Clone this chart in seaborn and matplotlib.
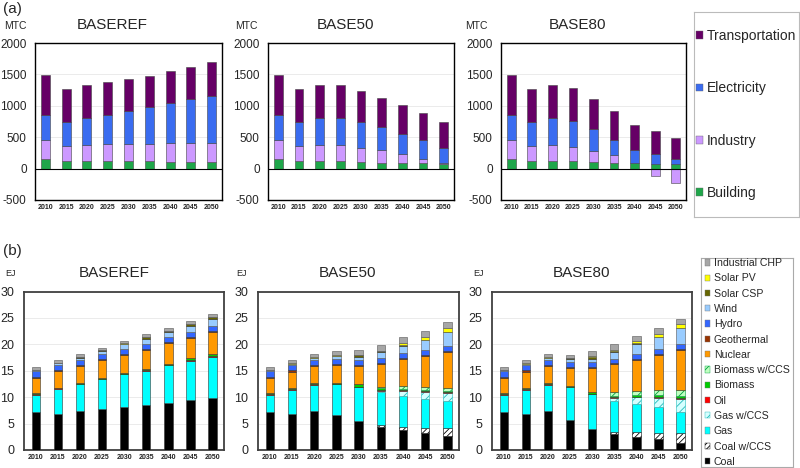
import numpy as np
import matplotlib
matplotlib.use("Agg")
import matplotlib.pyplot as plt
import seaborn as sns
from matplotlib.patches import Patch

years = ["2010", "2015", "2020", "2025", "2030", "2035", "2040", "2045", "2050"]
scenarios = ["BASEREF", "BASE50", "BASE80"]

# (a) emissions by sector, MTC
sectors = ["Building", "Industry", "Electricity", "Transportation"]
sector_colors = ["#1FA64A", "#CC99FF", "#3A6CF0", "#660066"]

ref_sector = {
    "Building":       [160, 120, 120, 120, 120, 120, 110, 110, 100],
    "Industry":       [290, 240, 250, 265, 270, 270, 290, 290, 310],
    "Electricity":    [400, 375, 430, 475, 535, 590, 640, 705, 745],
    "Transportation": [645, 540, 530, 520, 500, 490, 510, 515, 535],
}
b50_sector = {
    "Building":       [160, 120, 120, 120, 105, 95, 90, 85, 80],
    "Industry":       [290, 240, 250, 250, 225, 195, 135, 75, 15],
    "Electricity":    [400, 375, 430, 440, 420, 370, 330, 290, 240],
    "Transportation": [645, 540, 530, 515, 490, 470, 455, 430, 415],
}
b80_sector = {
    "Building":       [160, 120, 120, 120, 100, 90, 85, 75, 75],
    "Industry":       [290, 240, 250, 230, 185, 120, 0, -120, -230],
    "Electricity":    [400, 375, 430, 405, 340, 250, 210, 165, 85],
    "Transportation": [645, 540, 530, 525, 490, 450, 400, 355, 330],
}

# (b) electricity generation by source, EJ
fuels = ["Coal", "Coal w/CCS", "Gas", "Gas w/CCS", "Oil", "Biomass", "Biomass w/CCS",
         "Nuclear", "Geothermal", "Hydro", "Wind", "Solar CSP", "Solar PV", "Industrial CHP"]
fuel_face = ["#000000", "#FFFFFF", "#00FFFF", "#D5FFFF", "#FF0000", "#00CC00", "#C0FFC0",
             "#FF9900", "#993300", "#3366FF", "#99CCFF", "#666600", "#FFFF00", "#A6A6A6"]
fuel_edge = ["#333333", "#000000", "#333333", "#22BBBB", "#333333", "#333333", "#00A040",
             "#333333", "#333333", "#333333", "#555555", "#333333", "#555555", "#555555"]
fuel_hatch = [None, "//////", None, "////", None, None, "////",
              None, None, None, None, None, None, None]

ref_elec = {
    "Coal":           [7.1, 6.8, 7.3, 7.8, 8.1, 8.5, 8.9, 9.4, 9.9],
    "Coal w/CCS":     [0, 0, 0, 0, 0, 0, 0, 0, 0],
    "Gas":            [3.3, 4.7, 5.1, 5.6, 6.2, 6.5, 7.1, 7.5, 7.7],
    "Gas w/CCS":      [0, 0, 0, 0, 0, 0, 0, 0, 0],
    "Oil":            [0.15, 0.15, 0.1, 0.1, 0.1, 0.1, 0.1, 0.1, 0.1],
    "Biomass":        [0.15, 0.15, 0.2, 0.2, 0.2, 0.2, 0.2, 0.4, 0.5],
    "Biomass w/CCS":  [0, 0, 0, 0, 0, 0, 0, 0, 0],
    "Nuclear":        [3.0, 3.1, 3.2, 3.3, 3.4, 3.6, 3.9, 3.8, 4.1],
    "Geothermal":     [0.2, 0.2, 0.2, 0.2, 0.2, 0.2, 0.2, 0.2, 0.2],
    "Hydro":          [1.0, 1.0, 1.0, 1.0, 1.0, 1.0, 1.0, 1.0, 1.0],
    "Wind":           [0.15, 0.3, 0.4, 0.6, 0.8, 1.0, 0.9, 1.1, 1.3],
    "Solar CSP":      [0, 0, 0.05, 0.05, 0.1, 0.2, 0.2, 0.3, 0.3],
    "Solar PV":       [0.05, 0.05, 0.05, 0.05, 0.1, 0.1, 0.1, 0.1, 0.15],
    "Industrial CHP": [0.55, 0.55, 0.5, 0.5, 0.5, 0.5, 0.5, 0.5, 0.5],
}
b50_elec = {
    "Coal":           [7.1, 6.8, 7.3, 6.6, 5.4, 4.4, 3.8, 3.3, 2.7],
    "Coal w/CCS":     [0, 0, 0, 0, 0, 0.25, 0.5, 0.9, 1.4],
    "Gas":            [3.3, 4.6, 5.0, 5.8, 6.5, 6.4, 6.0, 5.5, 5.1],
    "Gas w/CCS":      [0, 0, 0, 0, 0, 0.2, 0.9, 1.3, 1.6],
    "Oil":            [0.15, 0.15, 0.1, 0.1, 0.1, 0.1, 0.1, 0.1, 0.1],
    "Biomass":        [0.15, 0.15, 0.2, 0.2, 0.4, 0.4, 0.3, 0.3, 0.3],
    "Biomass w/CCS":  [0, 0, 0, 0, 0, 0.1, 0.5, 0.5, 0.6],
    "Nuclear":        [3.0, 3.15, 3.3, 3.4, 3.5, 4.45, 5.1, 5.9, 6.8],
    "Geothermal":     [0.2, 0.2, 0.2, 0.2, 0.2, 0.2, 0.2, 0.2, 0.2],
    "Hydro":          [1.0, 1.0, 1.0, 1.0, 0.9, 0.9, 0.9, 0.9, 0.95],
    "Wind":           [0.15, 0.3, 0.35, 0.5, 0.6, 1.1, 1.4, 1.9, 2.5],
    "Solar CSP":      [0, 0, 0.05, 0.05, 0.3, 0.15, 0.1, 0.1, 0.1],
    "Solar PV":       [0.05, 0.05, 0.05, 0.05, 0.1, 0.15, 0.4, 0.5, 0.8],
    "Industrial CHP": [0.55, 0.65, 0.55, 0.8, 0.95, 1.1, 1.1, 1.2, 1.05],
}
b80_elec = {
    "Coal":           [7.1, 6.8, 7.3, 5.6, 4.0, 2.95, 2.5, 2.0, 1.25],
    "Coal w/CCS":     [0, 0, 0, 0, 0, 0.5, 0.85, 1.3, 1.9],
    "Gas":            [3.3, 4.6, 5.0, 6.3, 6.55, 5.85, 5.35, 4.8, 4.05],
    "Gas w/CCS":      [0, 0, 0, 0, 0, 0.6, 1.25, 1.8, 2.5],
    "Oil":            [0.15, 0.15, 0.1, 0.1, 0.1, 0.1, 0.1, 0.1, 0.1],
    "Biomass":        [0.15, 0.15, 0.2, 0.2, 0.35, 0.3, 0.3, 0.35, 0.4],
    "Biomass w/CCS":  [0, 0, 0, 0, 0, 0.6, 0.85, 1.0, 1.15],
    "Nuclear":        [3.0, 3.15, 3.3, 3.3, 4.6, 5.3, 5.85, 6.65, 7.55],
    "Geothermal":     [0.2, 0.2, 0.2, 0.2, 0.2, 0.2, 0.2, 0.2, 0.3],
    "Hydro":          [1.0, 1.0, 1.0, 1.0, 0.9, 0.9, 0.9, 0.85, 0.95],
    "Wind":           [0.15, 0.3, 0.35, 0.6, 0.6, 1.3, 2.0, 2.3, 2.85],
    "Solar CSP":      [0, 0, 0.05, 0.1, 0.3, 0.1, 0.1, 0.1, 0.15],
    "Solar PV":       [0.05, 0.05, 0.05, 0.05, 0.1, 0.2, 0.4, 0.6, 0.75],
    "Industrial CHP": [0.55, 0.65, 0.55, 0.6, 1.05, 1.1, 0.9, 0.95, 0.85],
}

sns.set_theme(style="white")
plt.rcParams["font.family"] = ["Liberation Sans", "DejaVu Sans"]
plt.rcParams["axes.unicode_minus"] = False
plt.rcParams["hatch.linewidth"] = 0.6

W, H = 800, 468
fig = plt.figure(figsize=(8, 4.68), dpi=100)


def box(x0, y0, x1, y1):
    return [x0 / W, 1 - y1 / H, (x1 - x0) / W, (y1 - y0) / H]


def ftext(x, y, s, **kw):
    fig.text(x / W, 1 - y / H, s, **kw)


def draw_stack(ax, table, names, faces, edges, hatches, width):
    pos = np.zeros(len(years))
    neg = np.zeros(len(years))
    for name, fc, ec, ht in zip(names, faces, edges, hatches):
        vals = np.asarray(table[name], dtype=float)
        base = np.where(vals < 0, neg, pos)
        sns.barplot(x=years, y=vals, bottom=base, color=fc, saturation=1, width=width,
                    edgecolor=ec, linewidth=0.4, hatch=ht, errorbar=None, ax=ax, zorder=3)
        pos += np.clip(vals, 0, None)
        neg += np.clip(vals, None, 0)
    for p in ax.patches:
        if abs(p.get_height()) < 1e-9:
            p.set_linewidth(0)
    ax.set_xlabel("")
    ax.set_ylabel("")


# ---- (a) ----
top_boxes = [(35, 43, 222, 200), (268, 43, 454, 200), (501, 43, 686, 200)]
top_tables = [ref_sector, b50_sector, b80_sector]
top_titles_x = [112, 345, 578]
mtc_x = [4, 235, 465]
for i in range(3):
    ax = fig.add_axes(box(*top_boxes[i]))
    draw_stack(ax, top_tables[i], sectors, sector_colors, ["#444444"] * 4, [None] * 4, 0.43)
    ax.set_xlim(-0.5, 8.5)
    ax.set_ylim(-500, 2000)
    ax.set_yticks(range(-500, 2001, 500))
    ax.axhline(0, color="black", lw=0.8, zorder=4)
    ax.yaxis.grid(True, color="#E8E8E8", lw=0.6)
    ax.set_axisbelow(True)
    ax.tick_params(axis="y", labelsize=8.5, length=0, pad=6)
    ax.tick_params(axis="x", labelsize=5, length=0, pad=3)
    for t in ax.get_xticklabels():
        t.set_fontweight("bold")
        t.set_color("#222222")
    for s in ax.spines.values():
        s.set_color("black")
        s.set_linewidth(1.0)
    ftext(top_titles_x[i], 25, scenarios[i], fontsize=11, ha="center", va="center")
    ftext(mtc_x[i], 26, "MTC", fontsize=7.5, ha="left", va="center")

ftext(3, 9, "(a)", fontsize=11, ha="left", va="center")

lax = fig.add_axes(box(694, 12, 799, 217))
lax.set_xticks([])
lax.set_yticks([])
for s in lax.spines.values():
    s.set_color("#BBBBBB")
    s.set_linewidth(0.8)
handles = [Patch(facecolor=c, edgecolor="#666666", linewidth=0.3)
           for c in sector_colors][::-1]
lax.legend(handles, sectors[::-1], loc="center left", bbox_to_anchor=(0.02, 0.5),
           frameon=False, fontsize=10, handlelength=0.5, handleheight=0.5,
           handletextpad=0.25, labelspacing=2.75, borderaxespad=0, borderpad=0)

# ---- (b) ----
bot_boxes = [(24, 291.5, 224, 450), (258, 291.5, 459, 450), (492, 291.5, 692, 450)]
bot_tables = [ref_elec, b50_elec, b80_elec]
bot_titles_x = [114, 348, 582]
ej_x = [5, 236, 473]
for i in range(3):
    ax = fig.add_axes(box(*bot_boxes[i]))
    draw_stack(ax, bot_tables[i], fuels, fuel_face, fuel_edge, fuel_hatch, 0.38)
    ax.set_xlim(-0.53, 8.52)
    ax.set_ylim(0, 30)
    ax.set_yticks(range(0, 31, 5))
    ax.yaxis.grid(True, color="#E8E8E8", lw=0.6)
    ax.set_axisbelow(True)
    ax.tick_params(axis="y", labelsize=9, length=0, pad=7)
    ax.tick_params(axis="x", labelsize=5, length=0, pad=3)
    for t in ax.get_xticklabels():
        t.set_fontweight("bold")
        t.set_color("#222222")
    for s in ax.spines.values():
        s.set_color("#404040")
        s.set_linewidth(1.3)
    ftext(bot_titles_x[i], 273, scenarios[i], fontsize=11, ha="center", va="center")
    ftext(ej_x[i], 273, "EJ", fontsize=6.5, ha="left", va="center")

ftext(3, 251, "(b)", fontsize=11, ha="left", va="center")

lax2 = fig.add_axes(box(701, 258, 793, 467))
lax2.set_xticks([])
lax2.set_yticks([])
for s in lax2.spines.values():
    s.set_color("#AAAAAA")
    s.set_linewidth(0.8)
handles2 = [Patch(facecolor=fc, edgecolor=(ec if ht else "#777777"), hatch=ht, linewidth=0.3)
            for fc, ec, ht in zip(fuel_face, fuel_edge, fuel_hatch)][::-1]
lax2.legend(handles2, fuels[::-1], loc="center left", bbox_to_anchor=(0.04, 0.5),
            frameon=False, fontsize=7.6, handlelength=0.55, handleheight=0.55,
            handletextpad=0.3, labelspacing=0.5, borderaxespad=0, borderpad=0)

fig.savefig("out.png", dpi=100)
